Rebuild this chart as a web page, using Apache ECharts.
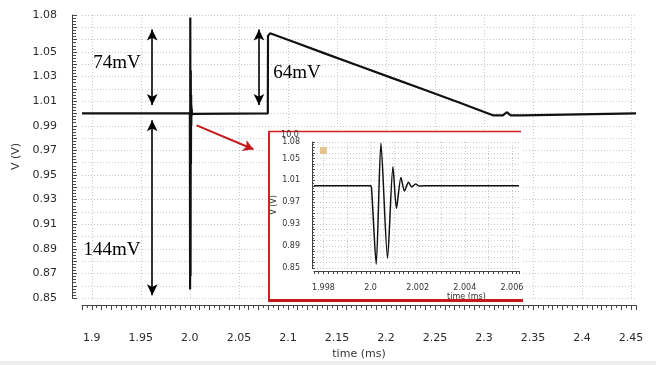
<!DOCTYPE html>
<html>
<head>
<meta charset="utf-8">
<script src="https://cdn.jsdelivr.net/npm/echarts@6/dist/echarts.min.js"></script>
<style>html,body{margin:0;padding:0;background:#fff;}#c{width:656px;height:365px;}</style>
</head>
<body>
<div id="c"></div>
<script>
// ---- data ----
const spikeTime = [2.0000, 2.00005, 2.00024, 2.00044, 2.00072, 2.00095, 2.0011, 2.00129, 2.00144, 2.00161, 2.00175, 2.00192, 2.00206, 2.00225];
const spikeVolt = [1.0, 0.99, 0.857, 1.078, 0.868, 1.035, 0.959, 1.015, 0.9905, 1.0064, 0.998, 1.0033, 0.9997, 1.0];
const preTime = [1.89];
const preVolt = [1.0];
const rampTime = [2.0795, 2.0797, 2.0818, 2.1055, 2.1395, 2.1734, 2.2073, 2.2413, 2.2753, 2.309, 2.3193, 2.3231, 2.3272, 2.3389, 2.3405, 2.455];
const rampVolt = [1.0, 1.063, 1.0651, 1.0582, 1.0482, 1.0384, 1.0285, 1.0187, 1.0087, 0.9985, 0.9985, 1.001, 0.9985, 0.9985, 1.0, 1.0];
const insetStartTime = [1.9976];
const insetEndTime = [2.0063];
const insetEdgeVolt = [1.0];

const mainXTicks = ['1.9','1.95','2.0','2.05','2.1','2.15','2.2','2.25','2.3','2.35','2.4','2.45'];
const mainYTicks = ['0.85','0.87','0.89','0.91','0.93','0.95','0.97','0.99','1.01','1.03','1.05','1.08'];
const insetXTicks = ['1.998','2.0','2.002','2.004','2.006'];
const insetYTicks = ['0.85','0.89','0.93','0.97','1.01','1.05','1.08'];

// annotation arrows (data coordinates)
const arrow74 = [[1.9616, 1.0682], [1.9616, 1.0068]];
const arrow64 = [[2.0705, 1.0682], [2.0705, 1.0068]];
const arrow144 = [[1.9616, 0.9944], [1.9616, 0.8524]];
const arrowRed = [[2.0069, 0.9903], [2.0648, 0.9709]];

// ---- build ----
function zipXY(t, v) { return t.map((x, i) => [x, v[i]]); }
const mainData = zipXY([...preTime, ...spikeTime, ...rampTime], [...preVolt, ...spikeVolt, ...rampVolt]);
const insetData = zipXY([...insetStartTime, ...spikeTime, ...insetEndTime], [...insetEdgeVolt, ...spikeVolt, ...insetEdgeVolt]);

function labelFrom(list, eps) {
  return function (v) {
    const m = list.find(s => Math.abs(parseFloat(s) - v) < eps);
    return m || '';
  };
}
function dblArrow(a) { return [{ coord: a[0] }, { coord: a[1] }]; }

const T = 'rgba(0,0,0,0)';
const GRID_C = '#c8c8c8';
const AX_C = '#444';
const RED = '#c41a1a';

const chart = echarts.init(document.getElementById('c'), null, { renderer: 'canvas' });
chart.setOption({
  animation: false,
  backgroundColor: '#fff',
  grid: [
    { left: 82, top: 15, width: 554, height: 293 },
    { left: 314, top: 142, width: 205, height: 126 }
  ],
  xAxis: [
    {
      gridIndex: 0, type: 'value', min: 1.89, max: 2.455, interval: 0.01,
      offset: 7,
      name: 'time (ms)', nameLocation: 'middle', nameGap: 42,
      nameTextStyle: { fontFamily: 'DejaVu Sans', fontSize: 11, color: '#333' },
      axisLine: { show: true, lineStyle: { color: AX_C, width: 1 } },
      axisTick: { show: true, length: 5, lineStyle: { color: AX_C } },
      minorTick: { show: true, splitNumber: 2, length: 3, lineStyle: { color: AX_C } },
      axisLabel: { margin: 28, fontFamily: 'DejaVu Sans', fontSize: 11, color: '#2a2a2a', formatter: labelFrom(mainXTicks, 0.001), showMinLabel: true, showMaxLabel: true },
      splitLine: { show: true, lineStyle: { color: [T, GRID_C, T, T, T], type: [1, 2], width: 1 } }
    },
    {
      gridIndex: 1, type: 'value', min: 1.9976, max: 2.0063, interval: 0.0002, z: 60,
      offset: 3,
      name: 'time (ms)', nameLocation: 'middle', nameGap: 22,
      nameTextStyle: { fontFamily: 'DejaVu Sans', fontSize: 8, color: '#333', padding: [0, 0, 0, 100] },
      axisLine: { show: true, lineStyle: { color: AX_C, width: 1 } },
      axisTick: { show: true, length: 3, lineStyle: { color: AX_C } },
      axisLabel: { margin: 13, fontFamily: 'DejaVu Sans', fontSize: 8, color: '#333', formatter: labelFrom(insetXTicks, 0.00002) },
      splitLine: { show: true, lineStyle: { color: [T, T, GRID_C, T, T], type: [1, 2], width: 1 } }
    }
  ],
  yAxis: [
    {
      gridIndex: 0, type: 'value', min: 0.85, max: 1.08, interval: 0.01,
      offset: 10,
      name: 'V (V)', nameLocation: 'middle', nameGap: 48, nameRotate: 90,
      nameTextStyle: { fontFamily: 'DejaVu Sans', fontSize: 11, color: '#333' },
      axisLine: { show: true, lineStyle: { color: AX_C, width: 1 } },
      axisTick: { show: true, inside: true, length: 5, lineStyle: { color: AX_C } },
      minorTick: { show: true, splitNumber: 4, length: 4, lineStyle: { color: AX_C } },
      axisLabel: { margin: 15, fontFamily: 'DejaVu Sans', fontSize: 11, color: '#2a2a2a', formatter: labelFrom(mainYTicks, 0.001), showMinLabel: true, showMaxLabel: true },
      splitLine: { show: true, lineStyle: { color: GRID_C, type: [1, 2], width: 1 } }
    },
    {
      gridIndex: 1, type: 'value', min: 0.85, max: 1.08, interval: 0.01, z: 60,
      offset: 2,
      name: 'V (V)', nameLocation: 'middle', nameGap: 32, nameRotate: 90,
      nameTextStyle: { fontFamily: 'DejaVu Sans', fontSize: 8, color: '#333' },
      axisLine: { show: true, lineStyle: { color: AX_C, width: 1 } },
      axisTick: { show: true, inside: true, length: 3, lineStyle: { color: AX_C } },
      minorTick: { show: true, splitNumber: 2, length: 2, lineStyle: { color: AX_C } },
      axisLabel: { margin: 12, fontFamily: 'DejaVu Sans', fontSize: 8, color: '#333', formatter: labelFrom(insetYTicks, 0.001), showMaxLabel: true },
      splitLine: { show: true, lineStyle: { color: GRID_C, type: [1, 2], width: 1 } }
    }
  ],
  series: [
    {
      type: 'line', xAxisIndex: 0, yAxisIndex: 0, data: mainData,
      showSymbol: false, symbol: 'none', z: 5,
      lineStyle: { color: '#111', width: 2.2 },
      markLine: {
        silent: true, animation: false,
        symbol: ['arrow', 'arrow'], symbolSize: [8, 11],
        lineStyle: { color: '#000', width: 1.6, type: 'solid' },
        label: { show: false },
        data: [
          dblArrow(arrow74),
          dblArrow(arrow64),
          dblArrow(arrow144),
          [
            { coord: arrowRed[0], symbol: 'none', lineStyle: { color: RED, width: 2, type: 'solid' } },
            { coord: arrowRed[1], symbol: 'arrow', symbolSize: [9, 10] }
          ]
        ]
      }
    },
    {
      type: 'line', xAxisIndex: 1, yAxisIndex: 1, data: insetData,
      showSymbol: false, symbol: 'none', z: 62, smooth: 0.25,
      lineStyle: { color: '#111', width: 1.5 }
    }
  ],
  graphic: [
    { type: 'rect', z: 50, shape: { x: 269, y: 131, width: 252, height: 170 }, style: { fill: '#fff' } },
    { type: 'line', z: 70, shape: { x1: 269, y1: 131.5, x2: 521, y2: 131.5 }, style: { stroke: '#d42020', lineWidth: 1.5 } },
    { type: 'line', z: 70, shape: { x1: 269, y1: 131, x2: 269, y2: 301 }, style: { stroke: '#d42020', lineWidth: 2 } },
    { type: 'line', z: 70, shape: { x1: 268, y1: 300.5, x2: 523, y2: 300.5 }, style: { stroke: RED, lineWidth: 3 } },
    { type: 'rect', z: 70, shape: { x: 320, y: 147, width: 7, height: 7, r: 1 }, style: { fill: '#e7c58e' } },
    { type: 'text', z: 70, x: 290, y: 135, style: { text: '10.0', font: '8px "DejaVu Sans"', fill: '#333', align: 'center', verticalAlign: 'middle' } },
    { type: 'text', z: 70, x: 117, y: 63, style: { text: '74mV', font: '19px "Liberation Serif"', fill: '#000', align: 'center', verticalAlign: 'middle' } },
    { type: 'text', z: 70, x: 297, y: 73, style: { text: '64mV', font: '19px "Liberation Serif"', fill: '#000', align: 'center', verticalAlign: 'middle' } },
    { type: 'text', z: 70, x: 112, y: 250, style: { text: '144mV', font: '19px "Liberation Serif"', fill: '#000', align: 'center', verticalAlign: 'middle' } },
    { type: 'rect', z: 1, shape: { x: 0, y: 361, width: 656, height: 4 }, style: { fill: '#ededed' } }
  ]
});
</script>
</body>
</html>
